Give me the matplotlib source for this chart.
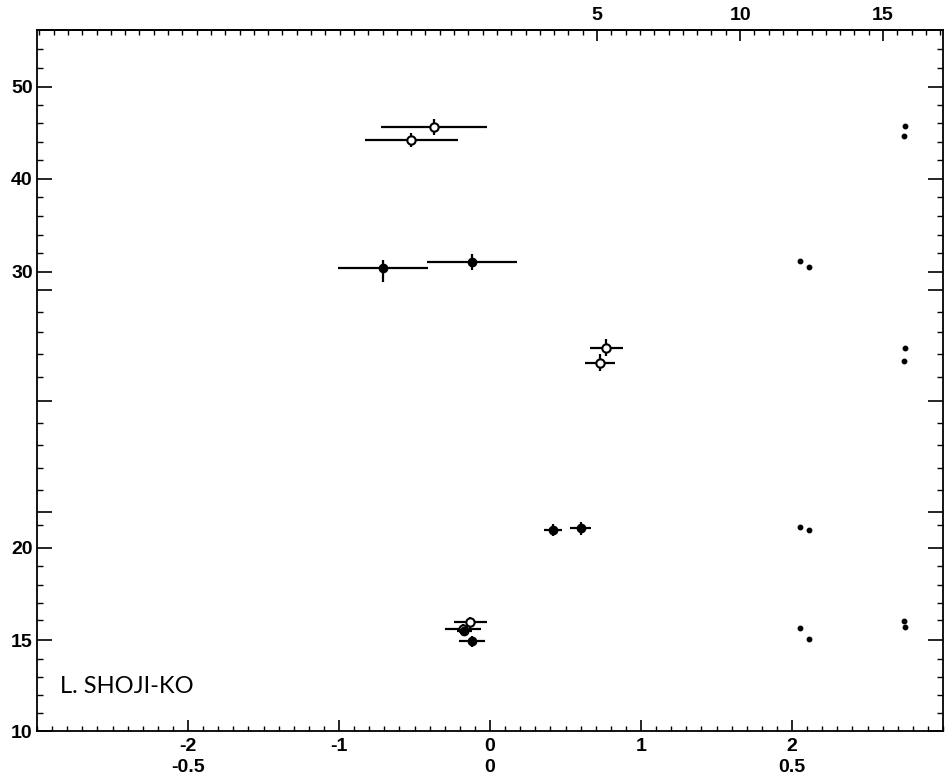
import numpy as np
import matplotlib
matplotlib.use("Agg")
import matplotlib.pyplot as plt
from matplotlib.ticker import FixedLocator, NullFormatter

# open circles with error bars
open_x = [-0.37, -0.52, 0.77, 0.73, -0.13, -0.18]
open_y = [45.65, 44.24, 27.25, 26.70, 15.97, 15.59]
open_xerr = [0.35, 0.31, 0.11, 0.10, 0.11, 0.12]
open_yerr = [0.9, 0.8, 0.3, 0.3, 0.3, 0.3]

# filled circles with error bars
fill_x = [-0.71, -0.12, 0.42, 0.60, -0.17, -0.12]
fill_y = [30.43, 31.08, 20.62, 20.69, 15.48, 14.95]
fill_xerr = [0.30, 0.30, 0.06, 0.07, 0.05, 0.085]
fill_yerr = [0.8, 0.85, 0.22, 0.22, 0.25, 0.3]

# small dots
dot_x = [2.05, 2.11, 2.05, 2.11, 2.05, 2.11, 2.75, 2.74, 2.75, 2.74, 2.74, 2.75]
dot_y = [31.18, 30.54, 20.76, 20.65, 15.65, 15.10, 45.76, 44.67, 27.25, 26.78, 16.02, 15.70]

# tick labels
bottom_ticks = [-2, -1, 0, 1, 2]
bottom_labels2 = ["-0.5", "0", "0.5"]
bottom_ticks2 = [-0.5, 0, 0.5]
top_ticks = [5, 10, 15]
y_major = [10, 15, 20, 21.3, 25.3, 29.35, 30, 40, 50]
y_labels = ["10", "15", "20", "", "", "", "30", "40", "50"]
y_minor = [11, 12, 13, 14, 16.1, 17, 18, 19, 20.8, 22.1, 22.9, 23.7, 24.5,
           26.2, 27.0, 27.8, 28.55, 32, 34, 36, 38.1, 42.1, 44, 46.1, 48, 52.1, 54.1]

# piecewise-linear depth scale (label value -> plotted position)
cal_val = [0, 10, 15, 20, 30, 40, 50, 70]
cal_pos = [-181.4, 0, 90.7, 183.7, 459.7, 552.7, 644.7, 828.7]


def fwd(v):
    return np.interp(v, cal_val, cal_pos)


def inv(p):
    return np.interp(p, cal_pos, cal_val)


tick_font = ["Liberation Sans Narrow", "Liberation Sans", "DejaVu Sans"]
tick_size = 14


def style_labels(labels):
    for lab in labels:
        lab.set_family(tick_font)
        lab.set_fontweight("bold")
        lab.set_fontsize(tick_size)


fig = plt.figure(figsize=(9.49, 7.79), dpi=100)
ax = fig.add_axes([0.039, 0.0616, 0.9547, 0.8999])
ax.set_yscale("function", functions=(fwd, inv))

ax.errorbar(open_x, open_y, xerr=open_xerr, yerr=open_yerr, fmt="o",
            color="black", mfc="white", mec="black", mew=1.5, ms=6,
            elinewidth=1.6, capsize=0, zorder=3)
ax.errorbar(fill_x, fill_y, xerr=fill_xerr, yerr=fill_yerr, fmt="o",
            color="black", ms=6, elinewidth=1.6, capsize=0, zorder=3)
ax.plot(dot_x, dot_y, "o", color="black", ms=3.2, ls="none")

ax.set_xlim(-3, 3)
ax.set_ylim(10, 56.2)

for s in ax.spines.values():
    s.set_linewidth(1.3)

# bottom axis, first row
ax.set_xticks(bottom_ticks)
ax.set_xticklabels([str(t) for t in bottom_ticks])
ax.xaxis.set_minor_locator(FixedLocator(np.arange(-3, 3.01, 0.1)))
ax.tick_params(axis="x", which="major", direction="in", length=8, width=1.2,
               top=False, pad=5)
ax.tick_params(axis="x", which="minor", direction="in", length=3.5, width=1.0,
               top=False)

# y axis
ax.yaxis.set_major_locator(FixedLocator(y_major))
ax.set_yticklabels(y_labels)
ax.yaxis.set_minor_locator(FixedLocator(y_minor))
ax.yaxis.set_minor_formatter(NullFormatter())
ax.tick_params(axis="y", which="major", direction="in", length=11, width=1.2,
               right=True, pad=3)
ax.tick_params(axis="y", which="minor", direction="in", length=4, width=1.0,
               right=True)
style_labels(ax.get_xticklabels() + ax.get_yticklabels())

# bottom axis, second row of labels
sec_b = ax.secondary_xaxis("bottom", functions=(lambda x: x / 4, lambda x: x * 4))
sec_b.set_xticks(bottom_ticks2)
sec_b.set_xticklabels(bottom_labels2)
sec_b.tick_params(length=0, pad=20)
sec_b.spines["bottom"].set_visible(False)
style_labels(sec_b.get_xticklabels())

# top axis
sec_t = ax.secondary_xaxis("top", functions=(lambda x: 5.28 * (x + 0.238),
                                              lambda t: t / 5.28 - 0.238))
sec_t.set_xticks(top_ticks)
sec_t.set_xticklabels([str(t) for t in top_ticks])
sec_t.xaxis.set_minor_locator(FixedLocator(np.arange(-14.5, 17.1, 0.5)))
sec_t.tick_params(which="major", direction="in", length=8, width=1.2, pad=4)
sec_t.tick_params(which="minor", direction="in", length=3.5, width=1.0)
sec_t.spines["top"].set_linewidth(1.3)
style_labels(sec_t.get_xticklabels())

ax.text(0.025, 0.063, "L. SHOJI-KO", transform=ax.transAxes, ha="left",
        va="center", fontsize=17, family=["Lato", "DejaVu Sans"])

fig.savefig("out.png", dpi=100)
